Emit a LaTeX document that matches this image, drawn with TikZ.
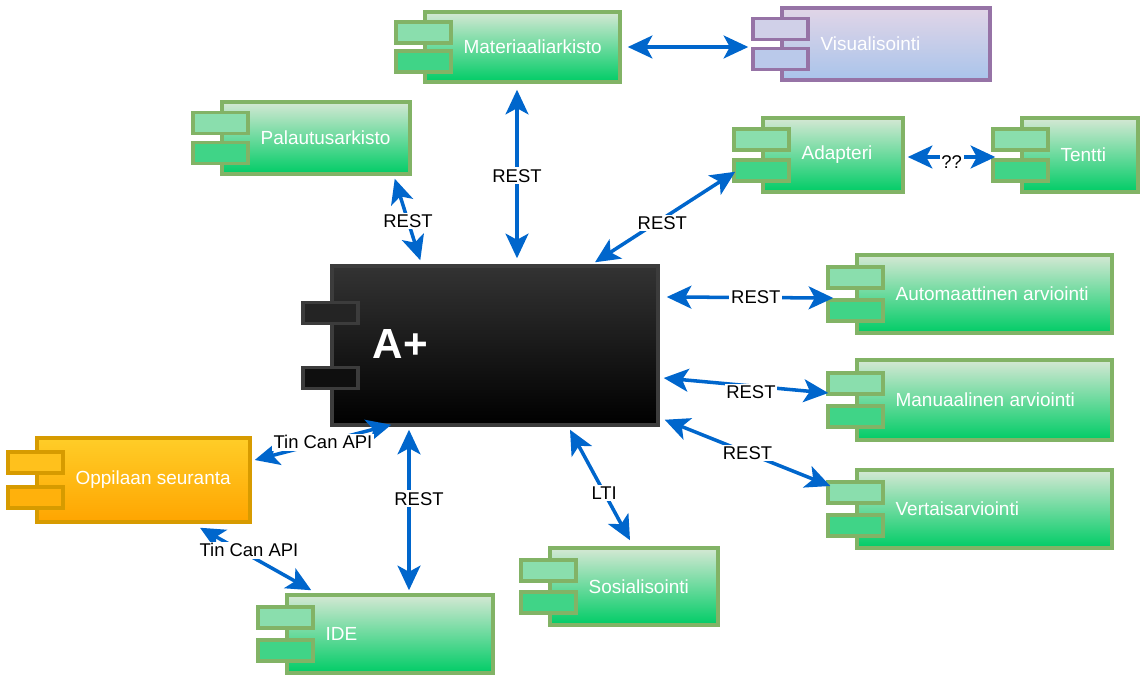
\documentclass[tikz,border=0pt]{standalone}
\usepackage{fontspec}
\setmainfont{Liberation Sans}
\usepackage{xcolor}
\usetikzlibrary{arrows.meta,calc}

\definecolor{linkblue}{HTML}{0066CC}
\definecolor{line-grn}{HTML}{82B366}
\definecolor{top-grn}{HTML}{D5E8D4}
\definecolor{bot-grn}{HTML}{00CC66}
\definecolor{line-pur}{HTML}{9673A6}
\definecolor{top-pur}{HTML}{E1D5E7}
\definecolor{bot-pur}{HTML}{A9C4EB}
\definecolor{line-org}{HTML}{D79B00}
\definecolor{top-org}{HTML}{FFCD28}
\definecolor{bot-org}{HTML}{FFA500}
\definecolor{line-blk}{HTML}{3C3C3C}
\definecolor{top-blk}{HTML}{333333}
\definecolor{bot-blk}{HTML}{000000}
\colorlet{tabA-grn}{top-grn!65!bot-grn}
\colorlet{tabB-grn}{top-grn!30!bot-grn}
\colorlet{tabA-pur}{top-pur!70!bot-pur}
\colorlet{tabB-pur}{top-pur!30!bot-pur}
\colorlet{tabA-org}{top-org!70!bot-org}
\colorlet{tabB-org}{top-org!30!bot-org}
\colorlet{tabA-blk}{top-blk!70!bot-blk}
\colorlet{tabB-blk}{top-blk!30!bot-blk}

\tikzset{
  comp/.style={rectangle, line width=2pt, inner sep=0pt},
  grn/.style={draw=line-grn, top color=top-grn, bottom color=bot-grn},
  pur/.style={draw=line-pur, top color=top-pur, bottom color=bot-pur},
  org/.style={draw=line-org, top color=top-org, bottom color=bot-org},
  blk/.style={draw=line-blk, top color=top-blk, bottom color=bot-blk},
  tab/.style={rectangle, line width=2pt, minimum width=1.1cm, minimum height=0.42cm, inner sep=0pt},
  ctext/.style={anchor=west, text=white, inner sep=0pt, font=\fontsize{10.8}{13}\selectfont},
  link/.style={<->, draw=linkblue, line width=2pt},
  lbl/.style={fill=white, inner sep=1pt, text=black, font=\fontsize{10.5}{12}\selectfont}
}

\begin{document}
\begin{tikzpicture}[x=0.02cm, y=-0.02cm, >={Stealth[length=14pt,width=13pt,inset=3.5pt]}]
  \useasboundingbox (0,0) rectangle (1141,675);

  % Core
  \node[comp, blk, minimum width=6.52cm, minimum height=3.18cm] (aplus) at (495,345.5) {};

  % Top
  \node[comp, grn, minimum width=3.9cm, minimum height=1.4cm] (mat) at (522.5,47) {};
  \node[comp, pur, minimum width=4.16cm, minimum height=1.44cm] (vis) at (886,44) {};
  \node[comp, grn, minimum width=3.76cm, minimum height=1.44cm] (pal) at (316,138) {};
  \node[comp, grn, minimum width=2.8cm, minimum height=1.48cm] (adap) at (833,155) {};
  \node[comp, grn, minimum width=2.32cm, minimum height=1.48cm] (tentti) at (1080,155) {};

  % Assessment
  \node[comp, grn, minimum width=5.1cm, minimum height=1.56cm] (auto) at (984.5,294) {};
  \node[comp, grn, minimum width=5.1cm, minimum height=1.6cm] (manu) at (984.5,400) {};
  \node[comp, grn, minimum width=5.1cm, minimum height=1.56cm] (vert) at (984.5,509) {};

  % Bottom
  \node[comp, grn, minimum width=3.36cm, minimum height=1.54cm] (sos) at (634,586.5) {};
  \node[comp, grn, minimum width=4.12cm, minimum height=1.56cm] (ide) at (390,634) {};
  \node[comp, org, minimum width=4.26cm, minimum height=1.68cm] (opp) at (143.5,480) {};

  % Tabs and names
  \foreach \n/\p/\lab in {aplus/blk/, mat/grn/Materiaaliarkisto, vis/pur/Visualisointi,
      pal/grn/Palautusarkisto, adap/grn/Adapteri, tentti/grn/Tentti,
      auto/grn/Automaattinen arviointi, manu/grn/Manuaalinen arviointi,
      vert/grn/Vertaisarviointi, sos/grn/Sosialisointi, ide/grn/IDE, opp/org/Oppilaan seuranta}{
    \node[tab, draw=line-\p, fill=tabA-\p] (\n-t1) at ($(\n.north west)!0.3!(\n.south west)$) {};
    \node[tab, draw=line-\p, fill=tabB-\p] (\n-t2) at ($(\n.north west)!0.7!(\n.south west)$) {};
    \node[ctext] (\n-txt) at ($(\n.west)+(40,0)$) {\lab};
  }
  \node[ctext, font=\bfseries\fontsize{24}{28}\selectfont] (aplus-name) at ($(aplus.west)+(42,-2)$) {A+};

  % Links
  \draw[link] ($(mat.south)+(-5.5,6)$) -- node[lbl, pos=0.51] (l-mat) {REST} ($(aplus.north)+(22,-6)$);
  \draw[link] ($(mat.east)+(6,0)$) -- ($(vis.west)+(-32,3)$);
  \draw[link] ($(pal.south east)+(-17,3)$) -- node[lbl, pos=0.52] (l-pal) {REST} ($(aplus.north west)+(90,-4)$);
  \draw[link] ($(adap.south west)+(-26,-22)$) -- node[lbl, pos=0.52, yshift=-0.08cm] (l-adap) {REST} ($(aplus.north)+(100,-2)$);
  \draw[link] ($(adap.east)+(3,2)$) -- node[lbl, yshift=-0.1cm] (l-tentti) {??} ($(tentti.west)+(-25,2)$);
  \draw[link] ($(aplus.east)+(7,-48.5)$) -- node[lbl, pos=0.535] (l-auto) {REST} ($(auto.west)+(-22,4)$);
  \draw[link] ($(aplus.east)+(4,32.5)$) -- node[lbl, pos=0.53, yshift=-0.12cm] (l-manu) {REST} ($(manu.west)+(-27,-7)$);
  \draw[link] ($(aplus.south east)+(5,-7)$) -- node[lbl, pos=0.5] (l-vert) {REST} ($(vert.west)+(-25,-23)$);
  \draw[link] ($(aplus.south)+(75,3)$) -- node[lbl, pos=0.57] (l-sos) {LTI} ($(sos.north)+(-4,-6)$);
  \draw[link] ($(aplus.south)+(-86,3)$) -- node[lbl, pos=0.43, xshift=0.2cm] (l-ide) {REST} ($(ide.north)+(19,-3)$);
  \draw[link] ($(aplus.south west)+(61,-2)$) -- node[lbl] (l-opp) {Tin Can API} ($(opp.east)+(3,-20)$);
  \draw[link] ($(opp.south)+(56.5,4)$) -- node[lbl, pos=0.44, yshift=0.1cm] (l-oppide) {Tin Can API} ($(ide.north west)+(26,-3)$);
\end{tikzpicture}
\end{document}
